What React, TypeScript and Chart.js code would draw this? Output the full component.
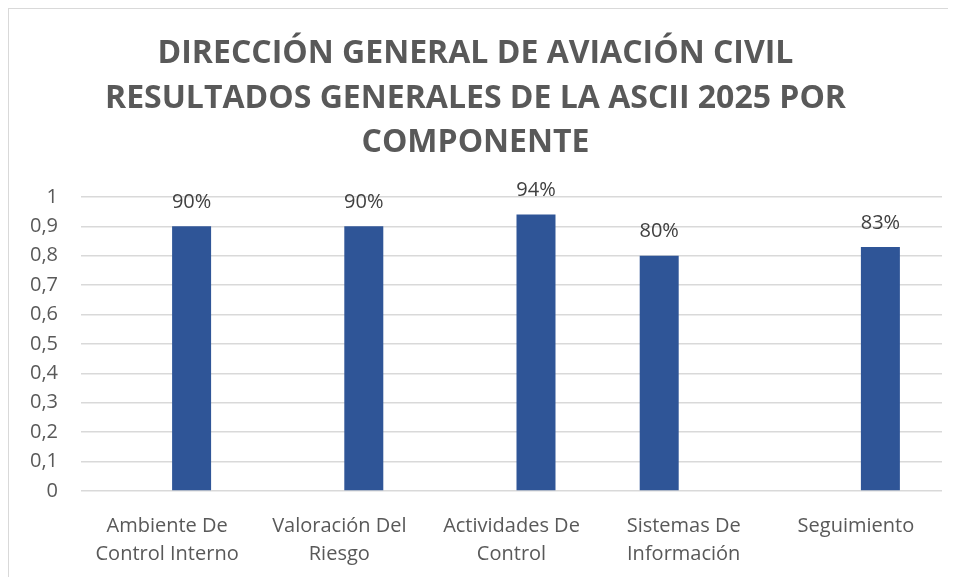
import React, { useEffect, useRef } from "react";
import { Chart, registerables } from "chart.js";

Chart.register(...registerables);

const titleLines = [
  "DIRECCIÓN GENERAL DE AVIACIÓN CIVIL",
  "RESULTADOS GENERALES DE LA ASCII 2025 POR",
  "COMPONENTE",
];

const categories: string[][] = [
  ["Ambiente De", "Control Interno"],
  ["Valoración Del", "Riesgo"],
  ["Actividades De", "Control"],
  ["Sistemas De", "Información"],
  ["Seguimiento"],
];

// two series in the original sheet; each component carries one value
const serie1: (number | null)[] = [null, null, null, 0.8, null];
const serie2: (number | null)[] = [0.9, 0.9, 0.94, null, 0.83];

const yTicks = [0, 0.1, 0.2, 0.3, 0.4, 0.5, 0.6, 0.7, 0.8, 0.9, 1];

const FONT = '"Open Sans", sans-serif';
const BAR = "#2F5597";
const TEXT = "#595959";

const dataLabels = {
  id: "dataLabels",
  afterDatasetsDraw(chart: any) {
    const ctx = chart.ctx;
    ctx.save();
    ctx.font = `20px ${FONT}`;
    ctx.fillStyle = "#404040";
    ctx.textAlign = "center";
    ctx.textBaseline = "middle";
    chart.data.datasets.forEach((ds: any, di: number) => {
      const meta = chart.getDatasetMeta(di);
      meta.data.forEach((el: any, i: number) => {
        const v = ds.data[i];
        if (v === null || v === undefined) return;
        ctx.fillText(Math.round(v * 100) + "%", el.x, el.y - 24);
      });
    });
    ctx.restore();
  },
};

export default function App() {
  const ref = useRef<HTMLCanvasElement>(null);
  useEffect(() => {
    if (!ref.current) return;
    const chart = new Chart(ref.current, {
      type: "bar",
      data: {
        labels: categories,
        datasets: [
          { label: "Serie1", data: serie1, backgroundColor: BAR, categoryPercentage: 0.569, barPercentage: 0.796 },
          { label: "Serie2", data: serie2, backgroundColor: BAR, categoryPercentage: 0.569, barPercentage: 0.796 },
        ],
      },
      options: {
        responsive: false,
        animation: false,
        layout: { padding: { left: 0, right: 14, top: 0, bottom: 0 } },
        plugins: {
          legend: { display: false },
          tooltip: { enabled: false },
          title: {
            display: true,
            text: titleLines,
            color: TEXT,
            font: { family: FONT, size: 32, weight: "bold", lineHeight: 1.39 },
            padding: { top: 23, bottom: 31.5 },
          },
        },
        scales: {
          x: {
            grid: { display: false },
            border: { display: false },
            ticks: {
              color: TEXT,
              font: { family: FONT, size: 20, lineHeight: 1.4 },
              maxRotation: 0,
              autoSkip: false,
              padding: 13,
            },
            afterFit: (s: any) => {
              s.height = 86;
            },
          },
          y: {
            min: 0,
            max: 1,
            afterBuildTicks: (s: any) => {
              s.ticks = yTicks.map((v) => ({ value: v }));
            },
            grid: { color: "#D9D9D9", lineWidth: 1.5, drawTicks: false },
            border: { display: false },
            ticks: {
              color: TEXT,
              font: { family: FONT, size: 20 },
              padding: 23,
              callback: (v: any) => String(Number(Number(v).toFixed(1))).replace(".", ","),
            },
            afterFit: (s: any) => {
              s.width = 72;
            },
          },
        },
      },
      plugins: [dataLabels],
    });
    return () => chart.destroy();
  }, []);
  return (
    <div
      style={{
        width: 948,
        height: 569,
        boxSizing: "border-box",
        borderTop: "1px solid #D9D9D9",
        borderLeft: "1px solid #D9D9D9",
        background: "#fff",
        overflow: "hidden",
      }}
    >
      <canvas ref={ref} width={947} height={568} style={{ display: "block" }} />
    </div>
  );
}
